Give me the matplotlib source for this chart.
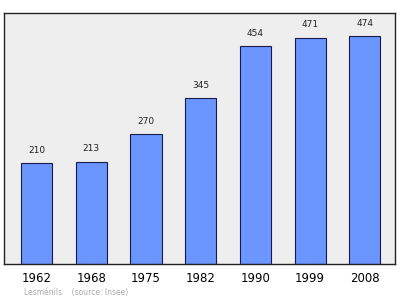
import matplotlib.pyplot as plt

years = ["1962", "1968", "1975", "1982", "1990", "1999", "2008"]
population = [210, 213, 270, 345, 454, 471, 474]

fig = plt.figure(figsize=(4.0, 2.99), dpi=100)
ax = fig.add_axes([4 / 400, 1 - 264 / 299, 391 / 400, 251 / 299])
ax.set_facecolor("#eeeeee")

x = range(len(years))
ax.bar(x, population, width=0.57, color="#6b96ff", edgecolor="#1a1a4a", linewidth=0.8, zorder=2)
for xi, v in zip(x, population):
    ax.text(xi, v + 17, str(v), ha="center", va="bottom", fontsize=6.5, color="#222222")

ax.set_xlim(-0.594, 6.55)
ax.set_ylim(0, 522)
ax.set_yticks([])
ax.set_xticks(list(x))
ax.set_xticklabels(years, fontsize=8.5)
ax.tick_params(axis="x", length=0, pad=6)
for s in ax.spines.values():
    s.set_linewidth(1.0)
    s.set_color("#222222")

fig.text(24 / 400, 1 - 292 / 299, "Lesménils    (source: Insee)", fontsize=5.5,
         color="#aaaaaa", va="center", ha="left")

fig.savefig("out.png", dpi=100)
